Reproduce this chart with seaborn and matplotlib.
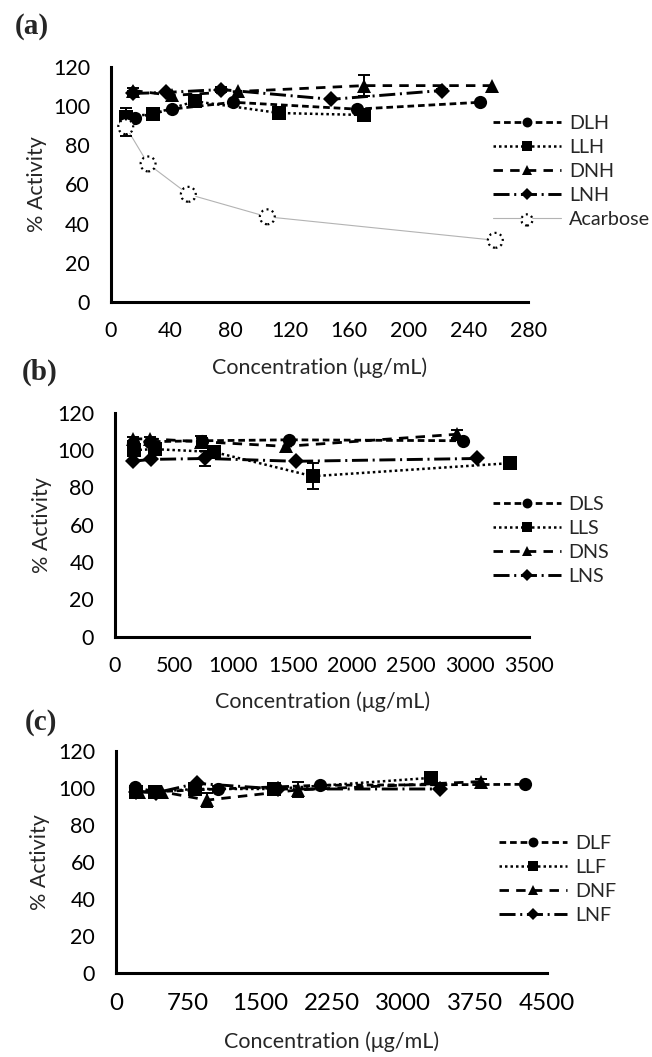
"""
Alpha-glucosidase activity vs. peptide concentration, three panels (a)-(c).
"""

import numpy as np
import matplotlib.pyplot as plt
import seaborn as sns
from matplotlib.legend_handler import HandlerTuple

# ---- panel (a): hydrolysates + acarbose ----
conc_DLH = [16, 41, 82, 165, 248]
act_DLH = [94, 98.5, 102, 98.5, 102]
err_DLH = [0, 0, 0, 0, 0]

conc_LLH = [10, 28, 56.5, 113, 170]
act_LLH = [94.5, 96, 102.5, 96.5, 95.5]
err_LLH = [4.5, 0, 0, 0, 0]

conc_DNH = [15, 41, 85, 170, 256]
act_DNH = [108, 105.5, 107.5, 110.5, 110.5]
err_DNH = [1.5, 0, 0, 5.5, 0]

conc_LNH = [15, 37, 74, 148, 222]
act_LNH = [106.5, 107, 108.5, 103.5, 108]
err_LNH = [1.5, 0, 1.5, 0, 1]

conc_ACA = [10, 25, 52, 105, 258]
act_ACA = [89.5, 70.5, 55, 43.5, 31.5]
err_ACA = [4.5, 0, 0, 0, 0]

# ---- panel (b) ----
conc_DLS = [150, 296, 735, 1470, 2942]
act_DLS = [104, 104.5, 105, 105.5, 105]
err_DLS = [0, 0, 1.5, 0, 0]

conc_LLS = [160, 335, 834, 1668, 3336]
act_LLS = [100, 100.5, 99, 86, 93]
err_LLS = [0, 0, 0, 7, 0]

conc_DNS = [150, 296, 725, 1440, 2891]
act_DNS = [106, 106, 104.5, 102, 108.5]
err_DNS = [1, 1, 3, 0, 2]

conc_LNS = [150, 300, 764, 1527, 3055]
act_LNS = [94, 95, 95.5, 94, 95.5]
err_LNS = [0, 0, 4, 0, 0]

# ---- panel (c) ----
conc_DLF = [200, 400, 1066, 2132, 4265]
act_DLF = [100.5, 98, 99.5, 101.5, 102]
err_DLF = [0, 0, 1.5, 0, 0]

conc_LLF = [205, 411, 822, 1645, 3290]
act_LLF = [98, 98, 99.5, 99.5, 105.5]
err_LLF = [0, 0, 0, 1, 0]

conc_DNF = [238, 476, 951, 1903, 3806]
act_DNF = [98, 98, 93.5, 99, 103.5]
err_DNF = [0, 0, 4, 4, 1.5]

conc_LNF = [211, 422, 844, 1689, 3378]
act_LNF = [98, 97.5, 102.5, 99.5, 99.5]
err_LNF = [0, 0, 0, 0, 0]

Y_TICKS = [0, 20, 40, 60, 80, 100, 120]
X_TICKS_A = [0, 40, 80, 120, 160, 200, 240, 280]
X_TICKS_B = [0, 500, 1000, 1500, 2000, 2500, 3000, 3500]
X_TICKS_C = [0, 750, 1500, 2250, 3000, 3750, 4500]

# line style per position in a panel: (linestyle, marker, markersize, linewidth)
STYLES = [
    ((0, (2.4, 1.4)), "o", 9.5, 2.0),
    ((0, (1, 1.2)), "s", 10, 1.8),
    ((0, (3.4, 2.6)), "^", 10, 2.0),
    ((0, (5.5, 1.6, 0.7, 1.6)), "D", 8, 2.1),
]

sns.set_style("white")
plt.rcParams["font.family"] = ["Lato", "DejaVu Sans"]


def draw_series(ax, x, y, err, label, style):
    ls, marker, ms, lw = style
    sns.lineplot(x=x, y=y, ax=ax, color="black", linestyle=ls, linewidth=lw,
                 marker=marker, markersize=ms, markeredgewidth=0,
                 label=label, zorder=3)
    x, y, err = np.array(x), np.array(y), np.array(err)
    keep = err > 0
    if keep.any():
        ax.errorbar(x[keep], y[keep], yerr=err[keep], fmt="none", ecolor="black",
                    elinewidth=1.4, capsize=4.5, capthick=1.4, zorder=3)


def style_axes(ax, xticks, xmax, xtick_size, label_y):
    ax.set_xlim(0, xmax)
    ax.set_ylim(0, 120)
    ax.set_xticks(xticks)
    ax.set_yticks(Y_TICKS)
    sns.despine(ax=ax)
    for side in ["left", "bottom"]:
        ax.spines[side].set_linewidth(2.2)
        ax.spines[side].set_color("black")
    ax.tick_params(axis="both", direction="out", length=5, width=1.6,
                   color="black", labelcolor="black")
    ax.tick_params(axis="y", labelsize=15.5, pad=10)
    ax.tick_params(axis="x", labelsize=xtick_size, pad=9)
    ax.set_xlabel("Concentration (μg/mL)", fontsize=15.5)
    ax.set_ylabel("% Activity", fontsize=15.5)
    ax.xaxis.set_label_coords(0.5, label_y)
    ax.yaxis.set_label_coords(-0.153, 0.5)


def add_legend(ax, handles, labels, x, y):
    leg = ax.legend(handles, labels, loc="upper left", bbox_to_anchor=(x, y),
                    bbox_transform=ax.figure.transFigure, frameon=False,
                    fontsize=14.2, borderpad=0, borderaxespad=0,
                    handlelength=3.45, handletextpad=0.4, labelspacing=0.36,
                    markerscale=0.75,
                    handler_map={tuple: HandlerTuple(ndivide=1, pad=0)})
    return leg


fig = plt.figure(figsize=(6.52, 10.57), dpi=100)
ax_a = fig.add_axes([0.170, 0.7143, 0.640, 0.2223])
ax_b = fig.add_axes([0.1764, 0.3976, 0.6356, 0.2119])
ax_c = fig.add_axes([0.178, 0.0792, 0.661, 0.2103])

# ---- (a) ----
panel_a = [
    (conc_DLH, act_DLH, err_DLH, "DLH"),
    (conc_LLH, act_LLH, err_LLH, "LLH"),
    (conc_DNH, act_DNH, err_DNH, "DNH"),
    (conc_LNH, act_LNH, err_LNH, "LNH"),
]
for (x, y, e, lab), st in zip(panel_a, STYLES):
    draw_series(ax_a, x, y, e, lab, st)

sns.lineplot(x=conc_ACA, y=act_ACA, ax=ax_a, color="#b3b3b3", linewidth=0.8,
             label="Acarbose", zorder=2)
aca_pts = ax_a.scatter(conc_ACA, act_ACA, s=115, facecolors="white",
                       edgecolors="black", linewidths=1.6,
                       linestyles=(0, (0.9, 1.6)), zorder=4)
acaarr = np.array(err_ACA)
ax_a.errorbar(np.array(conc_ACA)[acaarr > 0], np.array(act_ACA)[acaarr > 0],
              yerr=acaarr[acaarr > 0], fmt="none", ecolor="black",
              elinewidth=1.4, capsize=4.5, capthick=1.4, zorder=3)

style_axes(ax_a, X_TICKS_A, 280, 15.5, -0.235)
h, l = ax_a.get_legend_handles_labels()
h = h[:4] + [(h[4], aca_pts)]
add_legend(ax_a, h, l[:5], 0.756, 0.8915)

# ---- (b) ----
panel_b = [
    (conc_DLS, act_DLS, err_DLS, "DLS"),
    (conc_LLS, act_LLS, err_LLS, "LLS"),
    (conc_DNS, act_DNS, err_DNS, "DNS"),
    (conc_LNS, act_LNS, err_LNS, "LNS"),
]
for (x, y, e, lab), st in zip(panel_b, STYLES):
    draw_series(ax_b, x, y, e, lab, st)
style_axes(ax_b, X_TICKS_B, 3500, 15.5, -0.245)
h, l = ax_b.get_legend_handles_labels()
add_legend(ax_b, h, l, 0.7557, 0.5310)

# ---- (c) ----
panel_c = [
    (conc_DLF, act_DLF, err_DLF, "DLF"),
    (conc_LLF, act_LLF, err_LLF, "LLF"),
    (conc_DNF, act_DNF, err_DNF, "DNF"),
    (conc_LNF, act_LNF, err_LNF, "LNF"),
]
for (x, y, e, lab), st in zip(panel_c, STYLES):
    draw_series(ax_c, x, y, e, lab, st)
style_axes(ax_c, X_TICKS_C, 4500, 17.4, -0.262)
h, l = ax_c.get_legend_handles_labels()
add_legend(ax_c, h, l, 0.7653, 0.2103)

# panel letters
for letter, (px, py) in {"(a)": (15, 27), "(b)": (22, 372), "(c)": (25, 722)}.items():
    fig.text(px / 652, 1 - py / 1057, letter, fontsize=21, fontweight="bold",
             family="Liberation Serif", ha="left", va="center")

fig.savefig("out.png", dpi=100)
